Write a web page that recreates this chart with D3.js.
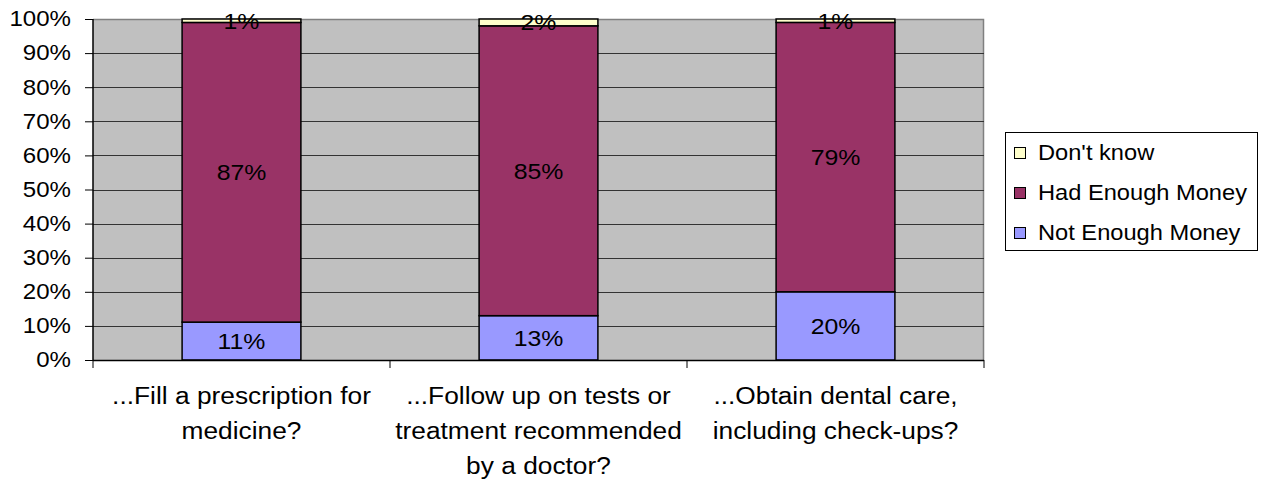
<!DOCTYPE html>
<html><head><meta charset="utf-8">
<script src="https://cdn.jsdelivr.net/npm/d3@7"></script>
<style>body{margin:0;background:#fff}svg{display:block}text{font-family:"Liberation Sans",Arial,sans-serif;fill:#000}</style>
</head><body>
<svg id="c" width="1272" height="481"></svg>
<script>
const categories = [["...Fill a prescription for","medicine?"],["...Follow up on tests or","treatment recommended","by a doctor?"],["...Obtain dental care,","including check-ups?"]];
const seriesNames = ["Not Enough Money","Had Enough Money","Don't know"];
const notEnough = [11,13,20];
const hadEnough = [87,85,79];
const dontKnow = [1,2,1];
const colors = ["#9999FF","#993366","#FFFFCC"];
const yTicks = [0,10,20,30,40,50,60,70,80,90,100];

const svg = d3.select("#c");
const L=93, R=984, T=19, B=360;
const x = d3.scaleBand().domain(d3.range(3)).range([L,R]).paddingInner(0.6).paddingOuter(0.3);
const y = d3.scaleLinear().domain([0,100]).range([B,T]);

function stext(parent, px, py, size, anchor, str, sx){
  return parent.append("text").attr("transform",`translate(${px},${py}) scale(${sx},1)`)
    .attr("text-anchor",anchor).attr("font-size",size).text(str);
}

svg.append("rect").attr("x",L).attr("y",T).attr("width",R-L).attr("height",B-T).attr("fill","#C0C0C0");
svg.append("path").attr("d",`M${L},${T+0.5}H${R-0.5}V${B}`).attr("fill","none").attr("stroke","#808080").attr("stroke-width",1.5);
// grid
svg.append("g").selectAll("line").data(yTicks.slice(1,-1)).join("line")
  .attr("x1",L).attr("x2",R).attr("y1",d=>Math.round(y(d))+0.5).attr("y2",d=>Math.round(y(d))+0.5)
  .attr("stroke","#333").attr("stroke-width",1);

const data = categories.map((c,i)=>{
  const vals=[notEnough[i],hadEnough[i],dontKnow[i]];
  const s=d3.sum(vals); let acc=0;
  return vals.map((v,j)=>{const y0=acc/s*100; acc+=v; return {i,j,v,y0,y1:acc/s*100};});
});
const g = svg.append("g");
data.flat().forEach(d=>{
  g.append("rect").attr("x",x(d.i)).attr("width",x.bandwidth())
    .attr("y",y(d.y1)).attr("height",y(d.y0)-y(d.y1))
    .attr("fill",colors[d.j]).attr("stroke","#000").attr("stroke-width",1.5);
});
data.flat().forEach(d=>{
  stext(g, x(d.i)+x.bandwidth()/2, (y(d.y0)+y(d.y1))/2+8, 22, "middle", d.v+"%", 1.13);
});

// y axis
const TX = 1.12;
const ya = svg.append("g").attr("transform",`translate(${L},0)`)
  .call(d3.axisLeft(y).tickValues(yTicks).tickFormat(d=>d+"%").tickSize(8).tickPadding(14));
ya.select(".domain").attr("stroke","#000").attr("stroke-width",1.5).attr("d",`M0,${T}V${B}`);
ya.selectAll(".tick line").attr("stroke","#000");
ya.selectAll(".tick text").attr("font-size",21.5).attr("font-family","Liberation Sans, Arial, sans-serif").attr("fill","#000")
  .attr("x",-22/TX).attr("transform",`scale(${TX},1)`);

// x axis
svg.append("line").attr("x1",L).attr("x2",R).attr("y1",B+0.5).attr("y2",B+0.5).attr("stroke","#000").attr("stroke-width",1.5);
const step=(R-L)/3;
svg.append("g").selectAll("line").data(d3.range(4)).join("line")
  .attr("x1",d=>L+d*step).attr("x2",d=>L+d*step).attr("y1",B).attr("y2",B+8).attr("stroke","#000");
categories.forEach((lines,i)=>{
  lines.forEach((ln,k)=>stext(svg, x(i)+x.bandwidth()/2, 404+k*35, 23.5, "middle", ln, 1.12));
});

// legend
svg.append("rect").attr("x",1005.5).attr("y",132.5).attr("width",252).attr("height",118).attr("fill","#fff").attr("stroke","#000");
const legOrder=[2,1,0];
legOrder.forEach((j,k)=>{
  const base=160+k*40;
  svg.append("rect").attr("x",1014.5).attr("y",base-12.5).attr("width",11).attr("height",11).attr("fill",colors[j]).attr("stroke","#000");
  stext(svg, 1038, base, 21.5, "start", seriesNames[j], 1.1);
});
</script>
</body></html>
